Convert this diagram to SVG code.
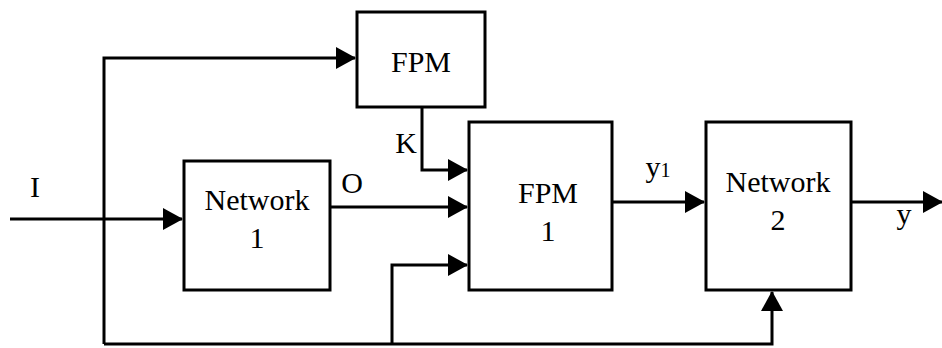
<svg xmlns="http://www.w3.org/2000/svg" width="942" height="348" viewBox="0 0 942 348">
<style>
.box{fill:#fff;stroke:#000;stroke-width:3}
.ln{fill:none;stroke:#000;stroke-width:3}
text{font-family:"Liberation Serif","Times New Roman",serif;font-size:30px;fill:#000}
.c{text-anchor:middle}
</style>
<defs>
<marker id="ah" markerUnits="userSpaceOnUse" markerWidth="20" markerHeight="22" refX="19" refY="11" orient="auto">
<path d="M0,0 L20,11 L0,22 Z" fill="#000"/>
</marker>
</defs>
<g id="connectors">
<path class="ln" d="M10,219 H182" marker-end="url(#ah)"/>
<path class="ln" d="M104,344 V58 H355" marker-end="url(#ah)"/>
<path class="ln" d="M422,107 V170 H467" marker-end="url(#ah)"/>
<path class="ln" d="M330,207 H467" marker-end="url(#ah)"/>
<path class="ln" d="M104,344 H772 V292" marker-end="url(#ah)"/>
<path class="ln" d="M392,344 V265 H467" marker-end="url(#ah)"/>
<path class="ln" d="M612,202 H704" marker-end="url(#ah)"/>
<path class="ln" d="M851,202 H942" marker-end="url(#ah)"/>
<text x="35" y="197" class="c">I</text>
<text x="352" y="193" class="c">O</text>
<text x="406" y="153" class="c">K</text>
<text x="658" y="177" class="c">y<tspan font-size="20">1</tspan></text>
<text x="904" y="224" class="c">y</text>
</g>
<g id="fpm">
<rect class="box" x="357" y="12" width="128" height="95"/>
<text x="421" y="72" class="c">FPM</text>
</g>
<g id="network1">
<rect class="box" x="184" y="161" width="146" height="129"/>
<text x="257" y="210" class="c">Network</text>
<text x="257" y="248" class="c">1</text>
</g>
<g id="fpm1">
<rect class="box" x="469" y="122" width="143" height="168"/>
<text x="548" y="203" class="c">FPM</text>
<text x="548" y="241" class="c">1</text>
</g>
<g id="network2">
<rect class="box" x="706" y="122" width="145" height="168"/>
<text x="778" y="192" class="c">Network</text>
<text x="778" y="230" class="c">2</text>
</g>
</svg>
